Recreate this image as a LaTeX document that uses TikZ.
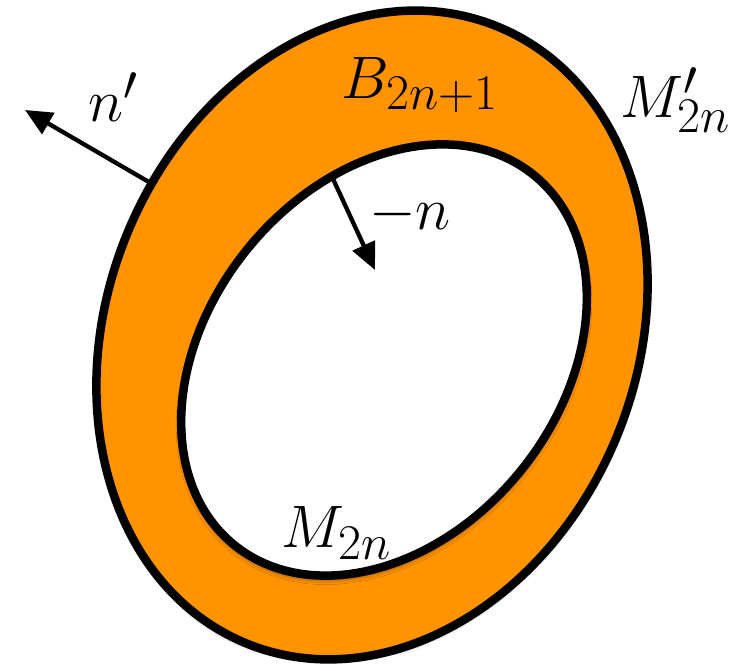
\documentclass[tikz,border=0pt]{standalone}
\usetikzlibrary{arrows.meta,shadows.blur}
\definecolor{ringorange}{RGB}{255,147,0}
\begin{document}
\begin{tikzpicture}[x=1pt,y=1pt,
  rim/.style={line width=8.5pt, draw=black},
  normalarrow/.style={line width=4.3pt, -{Triangle[length=27pt,width=24pt]}},
  lbl/.style={font=\Huge, scale=2.41, inner sep=0pt}]
\useasboundingbox (0,0) rectangle (747,670);
% outer boundary M'_{2n}
\begin{scope}[shift={(372,335)}, rotate=68]
  \fill[ringorange, blur shadow={shadow xshift=0pt, shadow yshift=-3pt, shadow blur radius=4pt, shadow opacity=35}]
    (0,0) ellipse [x radius=333, y radius=265];
  \draw[rim] (0,0) ellipse [x radius=333, y radius=265];
  \coordinate (outerpt) at (80:333 and 265);
\end{scope}
% inner boundary M_{2n}
\begin{scope}[shift={(384,310)}, rotate=51]
  \fill[white, blur shadow={shadow xshift=0pt, shadow yshift=-4pt, shadow blur radius=5pt, shadow opacity=50}]
    (0,0) ellipse [x radius=238, y radius=176];
  \draw[rim] (0,0) ellipse [x radius=238, y radius=176];
  \coordinate (innerpt) at (62.5:238 and 176);
\end{scope}
\coordinate (nprimetip) at (25,560);
\coordinate (minusntip) at (375,400);
\draw[normalarrow] (outerpt) -- (nprimetip);
\draw[normalarrow] (innerpt) -- (minusntip);
\node[lbl] (nprime) at (113,573) {$n'$};
\node[lbl] (bulk) at (420,585) {$B_{2n+1}$};
\node[lbl] (outerlbl) at (676,570) {$M'_{2n}$};
\node[lbl] (minusn) at (410,455) {$-n$};
\node[lbl] (innerlbl) at (337,137) {$M_{2n}$};
\end{tikzpicture}
\end{document}
